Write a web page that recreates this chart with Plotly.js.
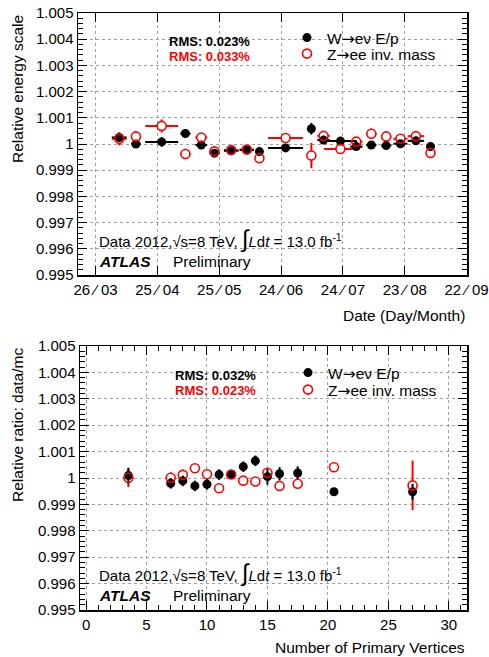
<!DOCTYPE html>
<html><head><meta charset="utf-8">
<script src="https://cdn.plot.ly/plotly-3.0.1.min.js"></script>
<style>html,body{margin:0;padding:0;background:#fff}#chart{width:489px;height:657px}</style>
</head><body><div id="chart"></div>
<script>
// ---------- Top panel: relative energy scale vs date (days after 26 March 2012)
const dateDays      = [11.5, 19.6, 32.1, 43.6, 51.3, 57.7, 65.8, 73.4, 79.5, 92.2, 104.7, 110.6, 118.8, 126.5, 133.8, 141.0, 147.9, 155.4, 162.5];
const dateHalfWidth = [3.6, 2.4, 8.0, 2.5, 2.9, 2.5, 3.5, 3.5, 1.0, 8.5, 1.5, 3.0, 8.0, 3.0, 2.5, 2.5, 3.4, 4.0, 0.5];
const wDate    = [1.00025, 1.00000, 1.00008, 1.00040, 0.99996, 0.99965, 0.99974, 0.99977, 0.99971, 0.99985, 1.00058, 1.00015, 1.00011, 0.99990, 0.99996, 0.99994, 1.00001, 1.00012, 0.99990];
const wDateErr = [0.00010, 0.00005, 0.00018, 0.00008, 0.00006, 0.00005, 0.00005, 0.00005, 0.00005, 0.00005, 0.00022, 0.00010, 0.00006, 0.00005, 0.00005, 0.00005, 0.00005, 0.00006, 0.00010];
const zDate    = [1.00020, 1.00029, 1.00069, 0.99962, 1.00025, 0.99972, 0.99977, 0.99979, 0.99946, 1.00023, 0.99956, 1.00031, 0.99981, 1.00009, 1.00039, 1.00029, 1.00020, 1.00030, 0.99966];
const zDateErr = [0.00025, 0.00020, 0.00025, 0.00020, 0.00015, 0.00010, 0.00008, 0.00008, 0.00003, 0.00015, 0.00048, 0.00015, 0.00010, 0.00010, 0.00020, 0.00015, 0.00010, 0.00010, 0.00020];
const dateTickDays   = [0, 30, 60, 90, 120, 150, 180];
const dateTickLabels = ['26 \u2044 03', '25 \u2044 04', '25 \u2044 05', '24 \u2044 06', '24 \u2044 07', '23 \u2044 08', '22 \u2044 09'];

// ---------- Bottom panel: relative ratio vs number of primary vertices
const nVertices = [3.5, 7, 8, 9, 10, 11, 12, 13, 14, 15, 16, 17.5, 20.5, 27];
const wNpv    = [1.00009, 0.99980, 0.99989, 0.99970, 0.99976, 1.00013, 1.00013, 1.00043, 1.00065, 1.00005, 1.00016, 1.00019, 0.99948, 0.99948];
const wNpvErr = [0.00030, 0.00020, 0.00020, 0.00020, 0.00020, 0.00020, 0.00015, 0.00020, 0.00020, 0.00030, 0.00025, 0.00025, 0.00003, 0.00030];
const zNpv    = [1.00001, 1.00001, 1.00012, 1.00037, 1.00014, 0.99961, 1.00013, 0.99990, 0.99987, 1.00020, 0.99970, 0.99978, 1.00041, 0.99972];
const zNpvErr = [0.00035, 0.00020, 0.00020, 0.00015, 0.00015, 0.00012, 0.00012, 0.00012, 0.00012, 0.00012, 0.00015, 0.00015, 0.00015, 0.00094];

const yTickVals   = [0.995, 0.996, 0.997, 0.998, 0.999, 1.000, 1.001, 1.002, 1.003, 1.004, 1.005];
const yTickLabels = ['0.995', '0.996', '0.997', '0.998', '0.999', '1', '1.001', '1.002', '1.003', '1.004', '1.005'];

const ARROW = '<span style="font-family:DejaVu Sans">\u2192</span>';
const seriesNames = ['W' + ARROW + 'e\u03bd E/p', 'Z' + ARROW + 'ee inv. mass'];
const rmsTop    = ['RMS: 0.023%', 'RMS: 0.033%'];
const rmsBottom = ['RMS: 0.032%', 'RMS: 0.023%'];

// ---------- geometry helpers (pixel -> paper)
const W = 489, H = 657, ML = 78, MR = 22, MT = 13, MB = 47;
const PW = W - ML - MR, PH = H - MT - MB;
const px = x => (x - ML) / PW;
const py = y => (H - MB - y) / PH;

const FONT = 'Liberation Sans, Arial, Helvetica, sans-serif';
const RED = '#ff0000';

function errTrace(x, y, ey, ex, xa, ya) {
  return {x: x, y: y, xaxis: xa, yaxis: ya, type: 'scatter', mode: 'markers', showlegend: false, hoverinfo: 'skip',
    marker: {symbol: 'circle', size: 9, color: 'white'},
    error_y: {type: 'data', array: ey, visible: true, width: 0, thickness: 2, color: RED},
    error_x: ex ? {type: 'data', array: ex, visible: true, width: 0, thickness: 2, color: RED} : {visible: false}};
}
function wTrace(x, y, ey, ex, xa, ya, leg) {
  return {x: x, y: y, xaxis: xa, yaxis: ya, type: 'scatter', mode: 'markers', name: seriesNames[0], legend: leg,
    marker: {symbol: 'circle', size: 9, color: 'black'},
    error_y: {type: 'data', array: ey, visible: true, width: 0, thickness: 2, color: 'black'},
    error_x: ex ? {type: 'data', array: ex, visible: true, width: 0, thickness: 2, color: 'black'} : {visible: false}};
}
function zTrace(x, y, xa, ya, leg) {
  return {x: x, y: y, xaxis: xa, yaxis: ya, type: 'scatter', mode: 'markers', name: seriesNames[1], legend: leg,
    marker: {symbol: 'circle-open', size: 9, color: RED, line: {width: 1.6, color: RED}}};
}

const data = [
  errTrace(dateDays, zDate, zDateErr, dateHalfWidth, 'x', 'y'),
  wTrace(dateDays, wDate, wDateErr, dateHalfWidth, 'x', 'y', 'legend'),
  zTrace(dateDays, zDate, 'x', 'y', 'legend2'),
  errTrace(nVertices, zNpv, zNpvErr, null, 'x2', 'y2'),
  wTrace(nVertices, wNpv, wNpvErr, null, 'x2', 'y2', 'legend3'),
  zTrace(nVertices, zNpv, 'x2', 'y2', 'legend4')
];

const axBase = {
  showline: true, linecolor: 'black', linewidth: 1.5, mirror: 'allticks',
  ticks: 'inside', ticklen: 9, tickwidth: 1, tickcolor: 'black',
  showgrid: true, gridcolor: '#a0a0a0', griddash: 'dot', gridwidth: 1,
  zeroline: false, tickfont: {family: FONT, size: 15, color: 'black'}, fixedrange: true
};
const yMinor = {ticks: 'inside', ticklen: 5, tickwidth: 1, tickcolor: 'black', dtick: 0.0002, showgrid: false};

function legendAt(xPix, yPix) {
  return {x: px(xPix - 20), y: py(yPix), xanchor: 'left', yanchor: 'middle', bgcolor: 'rgba(0,0,0,0)',
    borderwidth: 0, itemwidth: 30, font: {family: FONT, size: 15.5, color: 'black'}};
}

function txt(text, xPix, yPix, opts) {
  return Object.assign({text: text, xref: 'paper', yref: 'paper', x: px(xPix), y: py(yPix),
    xanchor: 'left', yanchor: 'middle', showarrow: false, font: {family: FONT, size: 15, color: 'black'}}, opts || {});
}
const lumiText = 'Data 2012,\u221As=8 TeV, <span style="font-size:24px">\u222B</span><i>L</i>d<i>t</i> = 13.0 fb<sup>-1</sup>';

const annotations = [
  txt('<b>' + rmsTop[0] + '</b>', 167, 41, {font: {family: FONT, size: 13, color: 'black'}}),
  txt('<b>' + rmsTop[1] + '</b>', 167, 56, {font: {family: FONT, size: 13, color: RED}}),
  txt('<b>' + rmsBottom[0] + '</b>', 172.7, 375, {font: {family: FONT, size: 13, color: 'black'}}),
  txt('<b>' + rmsBottom[1] + '</b>', 172.7, 390.7, {font: {family: FONT, size: 13, color: RED}}),
  txt(lumiText, 97, 239),
  txt('<b><i>ATLAS</i></b>', 97, 261, {font: {family: FONT, size: 15.5, color: 'black'}}),
  txt('Preliminary', 171, 261, {font: {family: FONT, size: 15.5, color: 'black'}}),
  txt(lumiText, 97, 572.7),
  txt('<b><i>ATLAS</i></b>', 97, 595.3, {font: {family: FONT, size: 15.5, color: 'black'}}),
  txt('Preliminary', 171, 595.3, {font: {family: FONT, size: 15.5, color: 'black'}}),
  txt('Relative energy scale', 17, 13, {textangle: -90, xanchor: 'center', yanchor: 'top', font: {family: FONT, size: 15.5, color: 'black'}}),
  txt('Relative ratio: data/mc', 17, 346, {textangle: -90, xanchor: 'center', yanchor: 'top', font: {family: FONT, size: 15.5, color: 'black'}}),
  txt('Date (Day/Month)', 467, 315, {xanchor: 'right', font: {family: FONT, size: 15.5, color: 'black'}}),
  txt('Number of Primary Vertices', 467, 647, {xanchor: 'right', font: {family: FONT, size: 15.5, color: 'black'}})
];

const layout = {
  width: W, height: H, margin: {l: ML, r: MR, t: MT, b: MB, pad: 0},
  paper_bgcolor: 'white', plot_bgcolor: 'white', font: {family: FONT, color: 'black'},
  showlegend: true,
  xaxis: Object.assign({}, axBase, {domain: [0, 1], anchor: 'y', range: [-8.5, 180.2],
    tickmode: 'array', tickvals: dateTickDays, ticktext: dateTickLabels}),
  yaxis: Object.assign({}, axBase, {domain: [py(275), 1], anchor: 'x', range: [0.995, 1.005],
    tickmode: 'array', tickvals: yTickVals, ticktext: yTickLabels, minor: yMinor}),
  xaxis2: Object.assign({}, axBase, {domain: [px(80), 1], anchor: 'y2', range: [-0.5, 31.5],
    dtick: 5, tick0: 0, minor: {ticks: 'inside', ticklen: 5, tickwidth: 1, tickcolor: 'black', dtick: 1, showgrid: false}}),
  yaxis2: Object.assign({}, axBase, {domain: [0, py(346)], anchor: 'x2', range: [0.995, 1.005],
    tickmode: 'array', tickvals: yTickVals, ticktext: yTickLabels, minor: yMinor}),
  legend: legendAt(307, 38),
  legend2: legendAt(307, 54),
  legend3: legendAt(308, 373),
  legend4: legendAt(308, 390),
  annotations: annotations
};

Plotly.newPlot('chart', data, layout, {displayModeBar: false, staticPlot: true});
</script></body></html>
